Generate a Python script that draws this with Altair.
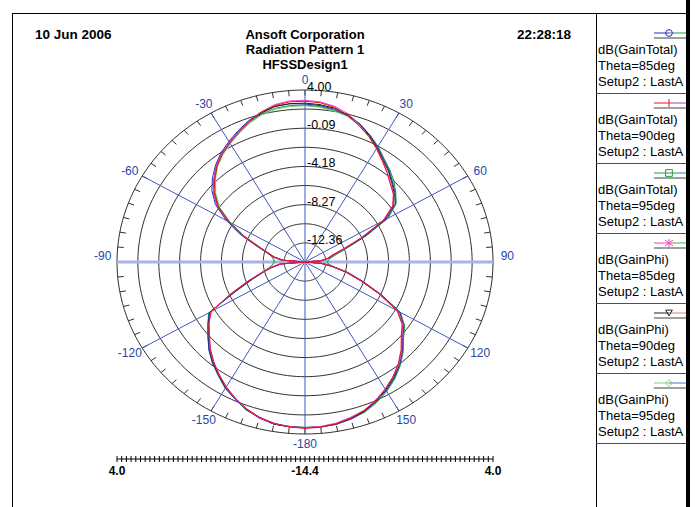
import altair as alt
import numpy as np
import pandas as pd

# Radial scale of the polar plot (dB): centre and outer ring
CENTER_DB = -14.4
OUTER_DB = 4.0
SPAN = round(OUTER_DB - CENTER_DB, 4)

# Pattern cuts, phi from -180 to 180 deg in 5 deg steps
angles = list(range(-180, 181, 5))

gain_total_85 = [
    3.3, 3.3, 3.2, 2.9, 2.4, 1.8, 1.2, 0.4, -0.3, -1.1,
    -2.0, -2.8, -3.6, -6.8, -8.8, -10.2, -11.0, -11.9, -25.0, -12.0,
    -11.2, -10.5, -9.3, -7.4, -5.5, -3.7, -2.5, -1.6, -0.8, -0.1,
    0.5, 1.1, 1.7, 2.2, 2.5, 2.6, 2.5, 2.4, 2.2, 1.8,
    1.3, 0.6, -0.2, -1.0, -1.6, -2.3, -2.9, -3.6, -5.2, -8.0,
    -10.2, -11.5, -12.0, -12.7, -25.0, -12.7, -11.6, -10.0, -8.4, -6.2,
    -3.7, -2.6, -1.9, -0.9, 0.0, 0.8, 1.5, 2.1, 2.6, 3.0,
    3.2, 3.3, 3.3,
]
gain_total_90 = [
    3.4, 3.3, 3.1, 2.8, 2.3, 1.7, 1.0, 0.3, -0.5, -1.3,
    -2.2, -2.9, -3.8, -6.4, -8.5, -10.1, -11.2, -12.1, -25.0, -12.3,
    -11.4, -10.6, -9.4, -7.7, -5.8, -4.0, -2.8, -1.9, -1.0, -0.3,
    0.3, 0.9, 1.6, 2.2, 2.6, 2.8, 2.8, 2.7, 2.4, 1.8,
    1.1, 0.4, -0.4, -1.2, -1.9, -2.6, -3.1, -3.9, -5.6, -8.4,
    -10.5, -11.7, -12.2, -12.9, -25.0, -12.9, -11.8, -10.3, -8.7, -6.5,
    -4.0, -2.8, -2.1, -1.1, -0.2, 0.6, 1.3, 2.0, 2.5, 2.9,
    3.2, 3.35, 3.4,
]
gain_total_95 = [
    3.3, 3.25, 3.2, 2.85, 2.45, 1.8, 1.2, 0.4, -0.3, -1.1,
    -2.0, -2.8, -3.5, -6.8, -8.8, -10.0, -10.8, -11.2, -11.4, -11.3,
    -11.1, -10.6, -9.6, -7.8, -5.9, -4.1, -2.9, -1.9, -1.0, -0.3,
    0.3, 0.9, 1.5, 2.0, 2.3, 2.4, 2.4, 2.3, 2.1, 1.8,
    1.3, 0.6, -0.1, -0.9, -1.5, -2.1, -2.8, -3.5, -5.0, -7.8,
    -10.0, -11.2, -11.8, -12.1, -12.2, -12.1, -11.6, -10.2, -8.5, -6.2,
    -3.6, -2.5, -1.8, -0.8, 0.1, 0.9, 1.6, 2.2, 2.7, 3.0,
    3.25, 3.3, 3.3,
]
gain_phi_85 = [
    3.35, 3.25, 3.15, 2.85, 2.35, 1.75, 1.05, 0.25, -0.45, -1.25,
    -2.15, -2.95, -3.75, -6.5, -8.5, -10.0, -11.1, -12.0, -25.0, -12.2,
    -11.3, -10.7, -9.5, -7.6, -5.7, -3.9, -2.7, -1.8, -0.9, -0.2,
    0.4, 1.0, 1.6, 2.2, 2.7, 2.9, 2.9, 2.8, 2.5, 2.0,
    1.2, 0.4, -0.4, -1.2, -1.9, -2.5, -3.1, -3.9, -5.5, -8.3,
    -10.4, -11.6, -12.1, -12.8, -25.0, -12.8, -11.7, -10.2, -8.6, -6.4,
    -3.9, -2.7, -2.0, -1.0, -0.1, 0.6, 1.3, 1.9, 2.5, 2.8,
    3.1, 3.25, 3.35,
]
gain_phi_90 = [
    3.35, 3.3, 3.2, 2.8, 2.4, 1.7, 1.1, 0.3, -0.4, -1.2,
    -2.1, -2.9, -3.7, -6.6, -8.6, -10.0, -11.1, -12.0, -25.0, -12.2,
    -11.3, -10.7, -9.5, -7.6, -5.7, -3.9, -2.7, -1.8, -0.9, -0.2,
    0.4, 1.0, 1.6, 2.1, 2.5, 2.6, 2.6, 2.5, 2.3, 1.9,
    1.3, 0.5, -0.3, -1.1, -1.7, -2.4, -3.0, -3.8, -5.4, -8.2,
    -10.4, -11.6, -12.1, -12.8, -25.0, -12.8, -11.7, -10.2, -8.6, -6.4,
    -3.9, -2.7, -2.0, -1.0, -0.1, 0.7, 1.4, 2.0, 2.6, 2.9,
    3.2, 3.3, 3.35,
]
gain_phi_95 = [
    3.3, 3.3, 3.15, 2.8, 2.4, 1.75, 1.15, 0.35, -0.35, -1.15,
    -2.05, -2.85, -3.55, -6.9, -8.9, -10.1, -10.9, -11.3, -11.5, -11.4,
    -11.2, -10.7, -9.7, -7.9, -6.0, -4.2, -3.0, -2.0, -1.1, -0.4,
    0.2, 0.8, 1.4, 1.9, 2.2, 2.3, 2.3, 2.2, 2.0, 1.7,
    1.2, 0.5, -0.2, -1.0, -1.6, -2.2, -2.9, -3.6, -5.1, -7.9,
    -10.1, -11.3, -11.9, -12.2, -12.3, -12.2, -11.7, -10.3, -8.6, -6.3,
    -3.7, -2.6, -1.9, -0.9, 0.0, 0.8, 1.5, 2.1, 2.6, 2.9,
    3.2, 3.3, 3.3,
]

# Legend entries: text lines, trace, line colours either side of the marker, marker kind
legend_entries = [
    (["dB(GainTotal)", "Theta=85deg", "Setup2 : LastA"], gain_total_85, "#2a2ad2", "#1e9e3c", "circle"),
    (["dB(GainTotal)", "Theta=90deg", "Setup2 : LastA"], gain_total_90, "#e8141e", "#8e44ad", "plus"),
    (["dB(GainTotal)", "Theta=95deg", "Setup2 : LastA"], gain_total_95, "#1f9e3a", "#1c8c9c", "square"),
    (["dB(GainPhi)", "Theta=85deg", "Setup2 : LastA"], gain_phi_85, "#ff3cc8", "#3cb44b", "star"),
    (["dB(GainPhi)", "Theta=90deg", "Setup2 : LastA"], gain_phi_90, "#202020", "#f07878", "triangle-down"),
    (["dB(GainPhi)", "Theta=95deg", "Setup2 : LastA"], gain_phi_95, "#7fd67f", "#4f6fd0", "diamond"),
]
draw_order = [5, 2, 0, 4, 3, 1]

# Grid: ring levels, their labels, spoke labels and the linear scale labels
ring_db = [-12.36, -10.31, -8.27, -6.22, -4.18, -2.13, -0.09, 1.96, 4.00]
ring_labels = ["4.00", "-0.09", "-4.18", "-8.27", "-12.36"]
angle_labels = [0, 30, 60, 90, 120, 150, -180, -150, -120, -90, -60, -30]
scale_labels = ["4.0", "-14.4", "4.0"]
scale_sides = [-1, 0, 1]

# Page layout (pixels): plot-area origin and size
PX0, PY0 = 117, 90
W, H = 376, 344
FONT = "Liberation Sans"
AXIS_BLUE = "#3f58c4"
LABEL_BLUE = "#2846a8"


def px(X):
    return X - PX0


def py(Y):
    return Y - PY0


xs = alt.Scale(domain=[-SPAN, SPAN], nice=False, zero=False)
ys = alt.Scale(domain=[-SPAN, SPAN], nice=False, zero=False)
one = pd.DataFrame({"k": [0]})

layers = []

# Concentric rings
ring_angles = list(range(0, 361, 2))
rings = pd.DataFrame(
    [{"ring": i, "level": lv, "angle": a} for i, lv in enumerate(ring_db) for a in ring_angles]
)
layers.append(
    alt.Chart(rings)
    .transform_calculate(r=f"datum.level - ({CENTER_DB})")
    .transform_calculate(
        gx="datum.r * sin(datum.angle * PI / 180)",
        gy="datum.r * cos(datum.angle * PI / 180)",
    )
    .mark_line(color="#1a1a1a", strokeWidth=0.9)
    .encode(
        x=alt.X("gx:Q", scale=xs, axis=None),
        y=alt.Y("gy:Q", scale=ys, axis=None),
        detail="ring:N",
        order="angle:Q",
    )
)

# Small ticks on the outer ring every 5 deg
ticks = pd.DataFrame({"angle": list(range(0, 360, 5))})
layers.append(
    alt.Chart(ticks)
    .transform_calculate(
        ax=f"{SPAN} * sin(datum.angle * PI / 180)",
        ay=f"{SPAN} * cos(datum.angle * PI / 180)",
        bx=f"{SPAN - 0.6} * sin(datum.angle * PI / 180)",
        by=f"{SPAN - 0.6} * cos(datum.angle * PI / 180)",
    )
    .mark_rule(color="#1a1a1a", strokeWidth=0.9)
    .encode(
        x=alt.X("ax:Q", scale=xs, axis=None),
        y=alt.Y("ay:Q", scale=ys, axis=None),
        x2=alt.X2("bx"),
        y2=alt.Y2("by"),
    )
)

# Spokes every 30 deg
spokes = pd.DataFrame({"angle": list(range(0, 360, 30))})
layers.append(
    alt.Chart(spokes)
    .transform_calculate(
        ox="0",
        oy="0",
        ex=f"{SPAN} * sin(datum.angle * PI / 180)",
        ey=f"{SPAN} * cos(datum.angle * PI / 180)",
    )
    .mark_rule(color=AXIS_BLUE, strokeWidth=1)
    .encode(
        x=alt.X("ox:Q", scale=xs, axis=None),
        y=alt.Y("oy:Q", scale=ys, axis=None),
        x2=alt.X2("ex"),
        y2=alt.Y2("ey"),
    )
)

# Emphasised 90 / -90 axis
layers.append(
    alt.Chart(one)
    .transform_calculate(hx0=f"-{SPAN}", hx1=f"{SPAN}", hy="0")
    .mark_rule(color="#a9b4e6", strokeWidth=3)
    .encode(
        x=alt.X("hx0:Q", scale=xs, axis=None),
        x2=alt.X2("hx1"),
        y=alt.Y("hy:Q", scale=ys, axis=None),
    )
)

# Pattern traces
for idx in draw_order:
    lines, vals, left_c, _, _ = legend_entries[idx]
    df = pd.DataFrame({"angle": angles, "gain": vals, "i": list(range(len(angles)))})
    layers.append(
        alt.Chart(df)
        .transform_calculate(r=f"max(0, datum.gain - ({CENTER_DB}))")
        .transform_calculate(
            gx="datum.r * sin(datum.angle * PI / 180)",
            gy="datum.r * cos(datum.angle * PI / 180)",
        )
        .mark_line(color=left_c, strokeWidth=1)
        .encode(
            x=alt.X("gx:Q", scale=xs, axis=None),
            y=alt.Y("gy:Q", scale=ys, axis=None),
            order="i:Q",
        )
    )

# Ring value labels along the 0 deg spoke
layers.append(
    alt.Chart(pd.DataFrame({"label": ring_labels}))
    .transform_calculate(lx="0", ly=f"toNumber(datum.label) - ({CENTER_DB})")
    .mark_text(align="left", baseline="middle", dx=2, dy=-3, fontSize=12.5, font=FONT, color="#000000")
    .encode(
        x=alt.X("lx:Q", scale=xs, axis=None),
        y=alt.Y("ly:Q", scale=ys, axis=None),
        text="label:N",
    )
)

# Angle labels around the outside
layers.append(
    alt.Chart(pd.DataFrame({"angle": angle_labels}))
    .transform_calculate(
        lx="19.8 * sin(datum.angle * PI / 180)",
        ly="19.5 * cos(datum.angle * PI / 180) + (abs(datum.angle) == 90 ? 0.65 : 0)",
        txt="'' + datum.angle",
    )
    .mark_text(align="center", baseline="middle", fontSize=12, font=FONT, color=LABEL_BLUE)
    .encode(
        x=alt.X("lx:Q", scale=xs, axis=None),
        y=alt.Y("ly:Q", scale=ys, axis=None),
        text="txt:N",
    )
)

# Linear dB scale under the plot
AXIS_Y = py(459)
layers.append(
    alt.Chart(one)
    .transform_calculate(sx0=f"-{SPAN}", sx1=f"{SPAN}")
    .mark_rule(color="#000000", strokeWidth=1)
    .encode(
        x=alt.X("sx0:Q", scale=xs, axis=None),
        x2=alt.X2("sx1"),
        y=alt.value(AXIS_Y),
    )
)
layers.append(
    alt.Chart(pd.DataFrame({"t": [round(v, 4) for v in np.linspace(-SPAN, SPAN, 81)]}))
    .mark_rule(color="#000000", strokeWidth=1)
    .encode(
        x=alt.X("t:Q", scale=xs, axis=None),
        y=alt.value(AXIS_Y - 3),
        y2=alt.value(AXIS_Y + 3),
    )
)
layers.append(
    alt.Chart(pd.DataFrame({"label": scale_labels, "side": scale_sides}))
    .transform_calculate(tx=f"datum.side * (toNumber(datum.label) - ({CENTER_DB}))")
    .mark_text(align="center", baseline="middle", fontSize=12, fontWeight="bold", font=FONT, color="#000000")
    .encode(
        x=alt.X("tx:Q", scale=xs, axis=None),
        y=alt.value(py(471)),
        text="label:N",
    )
)


# Page frame and header
def rule(x1, y1, x2, y2, color="#000000", width=1):
    return alt.Chart(one).mark_rule(color=color, strokeWidth=width).encode(
        x=alt.value(px(x1)), x2=alt.value(px(x2)), y=alt.value(py(y1)), y2=alt.value(py(y2))
    )


def text(s, X, Y, align="left", bold=False, size=13):
    return alt.Chart(one).mark_text(
        text=s, align=align, baseline="middle", fontSize=size, font=FONT,
        fontWeight="bold" if bold else "normal", color="#000000",
    ).encode(x=alt.value(px(X)), y=alt.value(py(Y)))


def marker(kind, X, Y, color):
    if kind == "plus":
        return [rule(X, Y - 4, X, Y + 4, color=color)]
    if kind == "star":
        return [
            rule(X, Y - 4, X, Y + 4, color=color),
            rule(X - 4, Y - 3, X + 4, Y + 3, color=color),
            rule(X - 4, Y + 3, X + 4, Y - 3, color=color),
        ]
    return [
        alt.Chart(one)
        .mark_point(shape=kind, filled=False, size=45, strokeWidth=1, color=color, opacity=1)
        .encode(x=alt.value(px(X)), y=alt.value(py(Y)))
    ]


layers.append(rule(12, 13.5, 688, 13.5))
layers.append(rule(12.5, 13, 12.5, 507))
layers.append(rule(596.5, 13, 596.5, 507))
layers.append(rule(688, 0, 688, 507, width=4))

layers.append(text("10 Jun 2006", 35, 35, bold=True, size=13.5))
layers.append(text("22:28:18", 571, 35, align="right", bold=True, size=13.5))
for s, Y in zip(["Ansoft Corporation", "Radiation Pattern 1", "HFSSDesign1"], [35, 50, 65]):
    layers.append(text(s, 305, Y, align="center", bold=True, size=13))

# Legend boxes
for k, (lines, _, left_c, right_c, kind) in enumerate(legend_entries):
    my = 33 + 70 * k
    layers.append(rule(596, 93 + 70 * k + 0.5, 686, 93 + 70 * k + 0.5, color="#505050"))
    layers.append(rule(654, my, 669, my, color=left_c))
    layers.append(rule(669, my, 686, my, color=right_c))
    layers.append(rule(654, my + 5, 686, my + 5, color="#404040"))
    layers.extend(marker(kind, 669, my, left_c))
    for j, s in enumerate(lines):
        layers.append(text(s, 598, my + 17 + 16 * j))

chart = (
    alt.layer(*layers)
    .properties(
        width=W,
        height=H,
        autosize=alt.AutoSizeParams(type="none"),
        padding={"left": PX0, "top": PY0, "right": 695 - PX0 - W, "bottom": 507 - PY0 - H},
        background="#ffffff",
    )
    .configure_view(strokeWidth=0)
)

chart.save("out.html", embed_options={"renderer": "svg", "actions": False})
